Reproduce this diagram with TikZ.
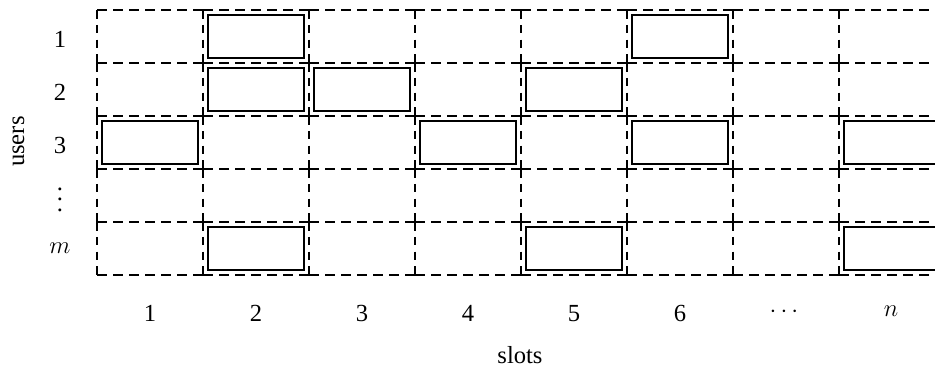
\RequirePackage{fix-cm}
\documentclass[tikz,border=0pt]{standalone}
\usepackage{fontspec}
\setmainfont{Liberation Serif}
\newcommand{\myvdots}{\vbox{\baselineskip5.4pt\lineskiplimit0pt\kern2pt\hbox{.}\hbox{.}\hbox{.}}}
\begin{document}
\begin{tikzpicture}[x=0.018868cm,y=-0.018868cm,
  cell/.style={minimum width=2cm, minimum height=1cm, inner sep=0pt, outer sep=0pt},
  hdash/.style={line width=0.7pt, dash pattern=on 5.2pt off 3.4pt},
  vdash/.style={line width=0.7pt, dash pattern=on 4.6pt off 3.35pt},
  slotbox/.style={draw, line width=1.1pt, minimum width=1.8cm, minimum height=0.8cm, inner sep=0pt},
  lab/.style={font=\fontsize{13.2}{16}\selectfont, inner sep=0pt}]
\useasboundingbox (0,0) rectangle (935,367);
\clip (0,0) rectangle (935,367);
\foreach \j in {1,...,5}{
  \foreach \i in {1,...,8}{
    \node[cell] (c-\i-\j) at ({150+106*(\i-1)},{36.5+53*(\j-1)}) {};
    \draw[hdash] (c-\i-\j.north west) -- (c-\i-\j.north east);
    \draw[vdash] (c-\i-\j.north west) -- (c-\i-\j.south west);
  }
  \draw[vdash] (c-8-\j.north east) -- (c-8-\j.south east);
}
\foreach \i in {1,...,8}
  \draw[hdash] (c-\i-5.south west) -- (c-\i-5.south east);
\foreach \i/\j in {2/1,6/1,2/2,3/2,5/2,1/3,4/3,6/3,8/3,2/5,5/5,8/5}
  \node[slotbox] (s-\i-\j) at (c-\i-\j.center) {};
% row labels
\node[lab] (r1) at (60,39.3) {1};
\node[lab] (r2) at (60,92.1) {2};
\node[lab] (r3) at (60,145) {3};
\node[lab] (r4) at (60,198) {\myvdots};
\node[lab] (r5) at (60,248) {$m$};
\node[lab, rotate=90] (users) at (18.5,141.6) {users};
% column labels
\foreach \i in {1,...,6}
  \node[lab] (k\i) at ({150+106*(\i-1)},313.5) {\i};
\node[lab] (k7) at (784,312) {$\cdots$};
\node[lab] (k8) at (891,311.5) {$n$};
\node[lab] (slots) at (520,355) {slots};
\end{tikzpicture}
\end{document}
